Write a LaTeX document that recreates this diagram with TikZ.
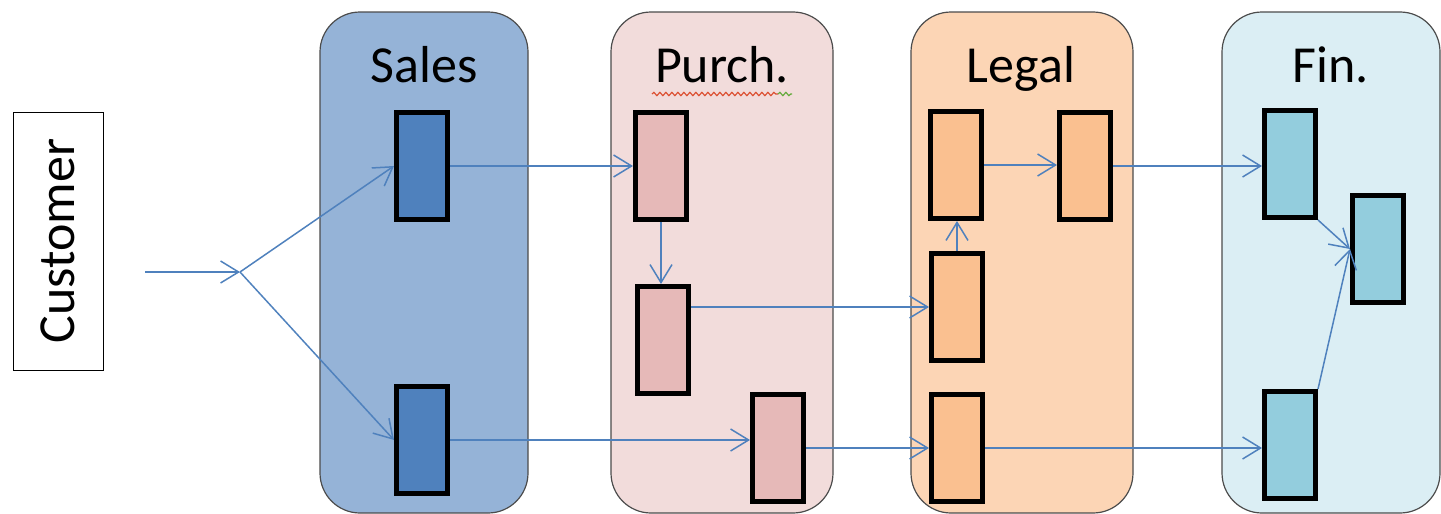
\documentclass[tikz,border=0pt]{standalone}
\usepackage{fontspec}
\setmainfont{Carlito}
\usepackage{tikz}
\usetikzlibrary{arrows.meta}
\usetikzlibrary{decorations.pathmorphing}
\usetikzlibrary{positioning}
\definecolor{salesbg}{RGB}{149, 179, 215}
\definecolor{salesfg}{RGB}{79, 129, 189}
\definecolor{purchbg}{RGB}{242, 220, 219}
\definecolor{purchfg}{RGB}{230, 185, 184}
\definecolor{legalbg}{RGB}{252, 213, 181}
\definecolor{legalfg}{RGB}{250, 192, 144}
\definecolor{finbg}{RGB}{219, 238, 244}
\definecolor{finfg}{RGB}{147, 205, 221}
\definecolor{flowblue}{RGB}{79, 129, 189}
\definecolor{spellred}{RGB}{220, 80, 50}
\definecolor{spellgreen}{RGB}{100, 170, 60}
\tikzset{lane/.style = {draw = black!70, line width = 0.6pt, rounded corners = 20pt}}
\tikzset{task/.style = {draw, line width = 2.4pt, inner sep = 0, minimum width = 25.6pt, minimum height = 53.6pt}}
\tikzset{flow/.style = {draw = flowblue, line width = 0.75pt, -{Straight Barb[length = 9pt, width = 11pt]}}}
\tikzset{lbl/.style = {anchor = base, inner sep = 0, font = \fontsize{26}{30}\selectfont}}
\tikzset{squiggle/.style = {line width = 0.6pt, decorate, decoration = {snake, segment length = 3pt, amplitude = 0.8pt}}}

\begin{document}
\begin{tikzpicture}[x = 0.5pt, y = -0.5pt]
  \useasboundingbox (0, 0) rectangle (1441, 514);
  % swim lanes
  \foreach \a/\b/\c in {320/528/salesbg, 611/833/purchbg, 911/1133/legalbg, 1222/1440/finbg} {
    \draw [lane, fill = \c] (\a, 12) rectangle (\b, 513);
  }
  \node [lbl] (salestitle) at (424, 83) {Sales};
  \node [lbl] (purchtitle) at (722, 83) {Purch.};
  \node [lbl] (legaltitle) at (1021, 83) {Legal};
  \node [lbl] (fintitle) at (1331, 83) {Fin.};
  \draw [squiggle, spellred] (652, 94) -- (778, 94);
  \draw [squiggle, spellgreen] (778, 94) -- (792, 94);
  % customer
  \node [draw, line width = 0.5pt, rotate = 90, minimum width = 129pt, minimum height = 45pt, inner sep = 0,
    font = \fontsize{26}{30}\selectfont] (cust) at (58, 241) {Customer};
  \coordinate (in) at (145, 272);
  \coordinate (split) at (240, 272);
  % tasks
  \foreach \n/\x/\y/\c in {s1/422/166/salesfg, s2/422/440/salesfg,
      p1/661/166/purchfg, p2/663/340/purchfg, p3/778/448/purchfg,
      l1/956/165/legalfg, l2/957/307/legalfg, l3/957/448/legalfg, l4/1085/166/legalfg,
      f1/1290/164/finfg, f2/1378/249/finfg, f3/1290/445/finfg} {
    \node [task, fill = \c] (\n) at (\x, \y) {};
  }
  % flows
  \draw [flow] (in) -- (split);
  \draw [flow] (split) -- (s1.west);
  \draw [flow] (split) -- (s2.west);
  \draw [flow] (s1.east) -- (s1.east -| p1.west);
  \draw [flow] (p1.south) -- (p1.south |- p2.north);
  \draw [flow] (l2.west -| p2.east) -- (l2.west);
  \draw [flow] (s2.east) -- (s2.east -| p3.west);
  \draw [flow] (p3.east) -- (l3.west);
  \draw [flow] (l3.east) -- (l3.east -| f3.west);
  \draw [flow] (l2.north) -- (l2.north |- l1.south);
  \draw [flow] (l1.east) -- (l1.east -| l4.west);
  \draw [flow] (l4.east) -- (l4.east -| f1.west);
  \draw [flow] (f1.south east) -- (f2.west);
  \draw [flow] (f3.north east) -- (f2.west);
\end{tikzpicture}
\end{document}
